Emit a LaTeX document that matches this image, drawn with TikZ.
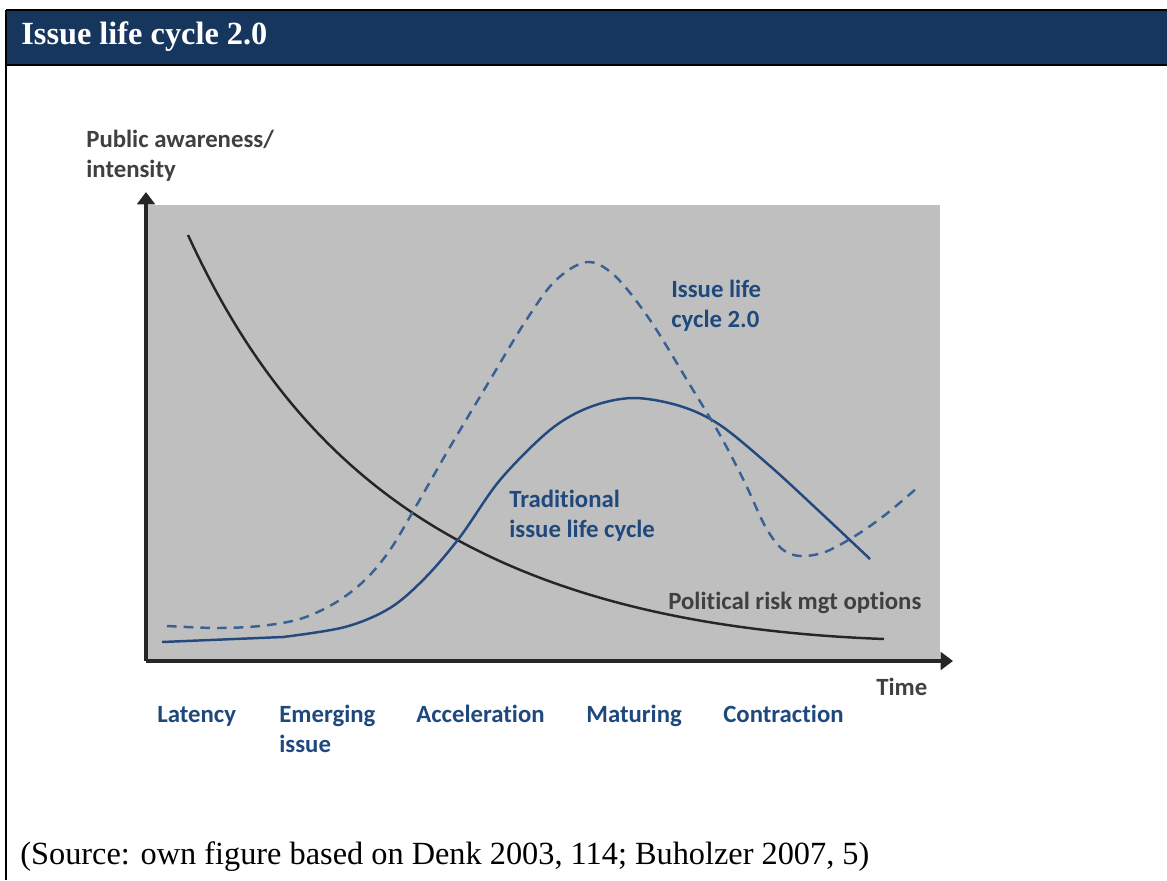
\documentclass[tikz,border=0pt]{standalone}
\usepackage{fontspec}
\setmainfont{Liberation Serif}
\setsansfont{Carlito}[Ligatures=NoCommon]
\usetikzlibrary{arrows.meta}
\definecolor{headblue}{HTML}{17365D}
\definecolor{textblue}{HTML}{1F497D}
\definecolor{lineblue}{HTML}{24497F}
\definecolor{dashblue}{HTML}{3A6194}
\definecolor{darkgrey}{HTML}{404040}
\definecolor{plotgrey}{HTML}{BFBFBF}
\definecolor{axisgrey}{HTML}{262626}
\begin{document}
\begin{tikzpicture}[x=0.02cm, y=-0.02cm,
		every node/.style={inner sep=0pt, anchor=base west},
		bluetext/.style={font=\sffamily\bfseries\fontsize{14.1}{17}\selectfont, text=textblue, align=left},
		greytext/.style={bluetext, text=darkgrey},
		serif/.style={font=\fontsize{18.4}{22}\selectfont},
		frame/.style={line width=1.2pt, black},
		axis/.style={line width=2pt, axisgrey, -{Triangle[length=7pt, width=10pt]}},
		curve/.style={line width=1.4pt, smooth, tension=0.55} ]
		\useasboundingbox (0,0) rectangle (1167,880);
		% header bar and frame
		\fill[headblue] (6,10) rectangle (1167,65);
		\draw[frame] (6,10) -- (1167,10) (6,65) -- (1167,65) (6,10) -- (6,880);
		\node[serif, font=\bfseries\fontsize{18.4}{22}\selectfont, text=white] (title) at (21,44) {Issue life cycle 2.0};
		% plot area
		\fill[plotgrey] (148,205) rectangle (940,660);
		\coordinate (O) at (146,661);
		\coordinate (Y) at (146,192);
		\coordinate (X) at (953,661);
		\draw[axis] (O) -- (Y);
		\draw[axis] (O) -- (X);
		% curves
		\coordinate (riskstart) at (188,235);
		\coordinate (riskend) at (884,639);
		\draw[curve, axisgrey] (riskstart) .. controls (298,475) and (480,624) .. (riskend);
		\draw[curve, lineblue] (162,642) -- plot coordinates {(283,637) (345,627) (390,608) (425,578) (460,537) (500,480) (550,430) (590,407) (633,398) (680,406) (720,425) (770,466) (820,512) (870,559)};
		\draw[curve, dashblue, dash pattern=on 5.5pt off 4pt] plot coordinates {(167,626) (217,628) (260,626) (300,619) (335,603) (365,580) (390,550) (415,508) (450,447) (490,380) (525,322) (555,281) (587,262) (615,276) (650,320) (690,385) (720,435) (745,483) (765,526) (782,549) (800,556) (825,552) (855,536) (885,515) (917,488)};
		% labels (base = last line)
		\node[greytext] (yname) at (86,177) {Public awareness/\\intensity};
		\node[greytext] (xname) at (876,695) {Time};
		\node[greytext] (riskname) at (668,609) {Political risk mgt options};
		\node[bluetext] (newname) at (671,327) {Issue life\\cycle 2.0};
		\node[bluetext] (oldname) at (509,537) {Traditional\\issue life cycle};
		\foreach \x/\y/\t [count=\i] in {157/722/Latency, 279/752/{Emerging\\issue}, 416/722/Acceleration, 586/722/Maturing, 723/722/Contraction}
			\node[bluetext] (phase\i) at (\x,\y) {\t};
		\node[serif] (source) at (20,864) {(Source: own figure based on Denk 2003, 114; Buholzer 2007, 5)};
	\end{tikzpicture}
\end{document}
